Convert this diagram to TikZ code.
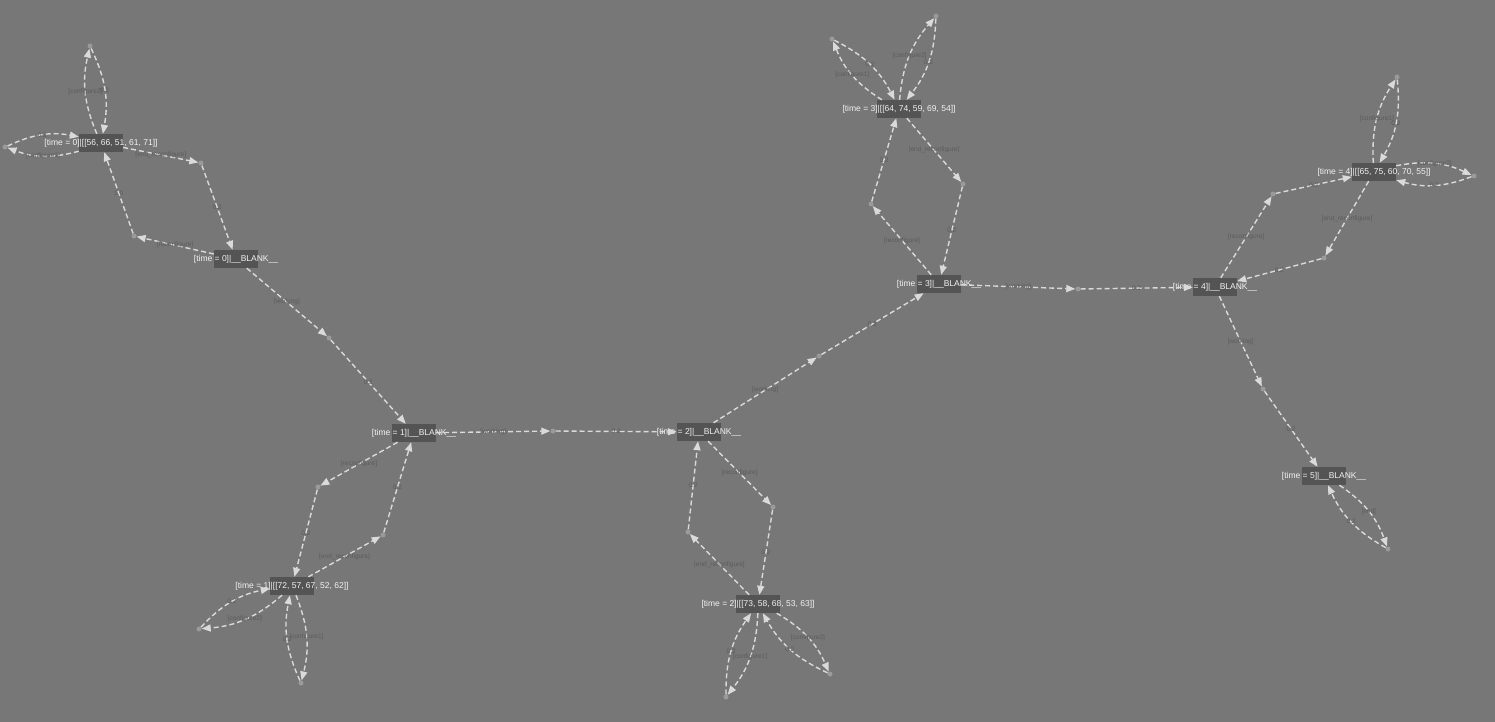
\documentclass[tikz,border=0pt]{standalone}
\usepackage{fontspec}
\setmainfont{Liberation Sans}
\usepackage{xcolor}
\usetikzlibrary{arrows.meta}

\definecolor{bggrey}{HTML}{777777}
\definecolor{boxgrey}{HTML}{545454}
\definecolor{edgegrey}{HTML}{DADADA}
\definecolor{dotgrey}{HTML}{9A9A9A}
\definecolor{labelgrey}{HTML}{5C5C5C}
\definecolor{textwhite}{HTML}{F2F2F2}

\begin{document}
\begin{tikzpicture}[
    x=1pt, y=-1pt,
    state/.style={rectangle, fill=boxgrey, minimum width=44pt, minimum height=18pt, inner sep=0pt},
    statetext/.style={text=textwhite, font=\fontsize{8.5}{10}\selectfont, inner sep=0pt},
    act/.style={circle, fill=dotgrey, minimum size=5pt, inner sep=0pt},
    link/.style={draw=edgegrey, line width=1.4pt, dash pattern=on 5pt off 3pt,
        -{Triangle[length=9pt, width=7pt]}},
    lens/.style={link, bend left=18},
    lab/.style={text=labelgrey, font=\fontsize{6.5}{7}\selectfont, inner sep=1pt}
]
    \useasboundingbox (0,0) rectangle (1495,722);
    \fill[bggrey] (0,0) rectangle (1495,722);

    % states
    \node[state] (s0) at (101,143) {};
    \node[state] (b0) at (236,259) {};
    \node[state] (b1) at (414,433) {};
    \node[state] (s1) at (292,586) {};
    \node[state] (b2) at (699,432) {};
    \node[state] (s2) at (758,604) {};
    \node[state] (b3) at (939,284) {};
    \node[state] (s3) at (899,109) {};
    \node[state] (b4) at (1215,287) {};
    \node[state] (s4) at (1374,172) {};
    \node[state] (b5) at (1324,476) {};

    \node[statetext] (s0t) at (s0) {[time = 0]|[[56, 66, 51, 61, 71]]};
    \node[statetext] (b0t) at (b0) {[time = 0]|\_\_BLANK\_\_};
    \node[statetext] (b1t) at (b1) {[time = 1]|\_\_BLANK\_\_};
    \node[statetext] (s1t) at (s1) {[time = 1]|[[72, 57, 67, 52, 62]]};
    \node[statetext] (b2t) at (b2) {[time = 2]|\_\_BLANK\_\_};
    \node[statetext] (s2t) at (s2) {[time = 2]|[[73, 58, 68, 53, 63]]};
    \node[statetext] (b3t) at (b3) {[time = 3]|\_\_BLANK\_\_};
    \node[statetext] (s3t) at (s3) {[time = 3]|[[64, 74, 59, 69, 54]]};
    \node[statetext] (b4t) at (b4) {[time = 4]|\_\_BLANK\_\_};
    \node[statetext] (s4t) at (s4) {[time = 4]|[[65, 75, 60, 70, 55]]};
    \node[statetext] (b5t) at (b5) {[time = 5]|\_\_BLANK\_\_};

    % actions
    \node[act] (a0c2) at (90,46) {};
    \node[act] (a0c1) at (5,147) {};
    \node[act] (a0er) at (201,163) {};
    \node[act] (a0r) at (134,236) {};
    \node[act] (a0w) at (329,338) {};
    \node[act] (a1r) at (318,487) {};
    \node[act] (a1er) at (383,535) {};
    \node[act] (a1c2) at (199,629) {};
    \node[act] (a1c1) at (301,683) {};
    \node[act] (a1w) at (553,431) {};
    \node[act] (a2r) at (773,507) {};
    \node[act] (a2er) at (688,532) {};
    \node[act] (a2c1) at (726,697) {};
    \node[act] (a2c2) at (830,674) {};
    \node[act] (a2w) at (819,356) {};
    \node[act] (a3r) at (871,204) {};
    \node[act] (a3er) at (963,184) {};
    \node[act] (a3c1) at (832,39) {};
    \node[act] (a3c2) at (936,16) {};
    \node[act] (a3w) at (1078,289) {};
    \node[act] (a4r) at (1273,194) {};
    \node[act] (a4er) at (1324,258) {};
    \node[act] (a4c1) at (1397,77) {};
    \node[act] (a4c2) at (1474,176) {};
    \node[act] (a4w) at (1263,389) {};
    \node[act] (a5e) at (1388,549) {};

    % time 0
    \draw[lens] (s0) to node[lab] {[configure2]} (a0c2);
    \draw[lens] (a0c2) to node[lab] {0.2} (s0);
    \draw[lens] (s0) to node[lab] {[configure1]} (a0c1);
    \draw[lens] (a0c1) to node[lab] {0.2} (s0);
    \draw[link] (s0) -- node[lab] {[end\_reconfigure]} (a0er);
    \draw[link] (a0er) -- node[lab] {0.2} (b0);
    \draw[link] (b0) -- node[lab] {[reconfigure]} (a0r);
    \draw[link] (a0r) -- node[lab] {1.0} (s0);
    \draw[link] (b0) -- node[lab] {[working]} (a0w);
    \draw[link] (a0w) -- node[lab] {0.2} (b1);

    % time 1
    \draw[link] (b1) -- node[lab] {[reconfigure]} (a1r);
    \draw[link] (a1r) -- node[lab] {0.2} (s1);
    \draw[link] (s1) -- node[lab] {[end\_reconfigure]} (a1er);
    \draw[link] (a1er) -- node[lab] {0.2} (b1);
    \draw[lens] (s1) to node[lab] {[configure2]} (a1c2);
    \draw[lens] (a1c2) to node[lab] {0.2} (s1);
    \draw[lens] (s1) to node[lab] {[configure1]} (a1c1);
    \draw[lens] (a1c1) to node[lab] {0.2} (s1);
    \draw[link] (b1) -- node[lab] {[working]} (a1w);
    \draw[link] (a1w) -- node[lab] {0.2} (b2);

    % time 2
    \draw[link] (b2) -- node[lab] {[reconfigure]} (a2r);
    \draw[link] (a2r) -- node[lab] {0.2} (s2);
    \draw[link] (s2) -- node[lab] {[end\_reconfigure]} (a2er);
    \draw[link] (a2er) -- node[lab] {0.2} (b2);
    \draw[lens] (s2) to node[lab] {[configure1]} (a2c1);
    \draw[lens] (a2c1) to node[lab] {0.2} (s2);
    \draw[lens] (s2) to node[lab] {[configure2]} (a2c2);
    \draw[lens] (a2c2) to node[lab] {0.2} (s2);
    \draw[link] (b2) -- node[lab] {[working]} (a2w);
    \draw[link] (a2w) -- node[lab] {0.2} (b3);

    % time 3
    \draw[link] (b3) -- node[lab] {[reconfigure]} (a3r);
    \draw[link] (a3r) -- node[lab] {0.2} (s3);
    \draw[link] (s3) -- node[lab] {[end\_reconfigure]} (a3er);
    \draw[link] (a3er) -- node[lab] {0.2} (b3);
    \draw[lens] (s3) to node[lab] {[configure1]} (a3c1);
    \draw[lens] (a3c1) to node[lab] {0.2} (s3);
    \draw[lens] (s3) to node[lab] {[configure2]} (a3c2);
    \draw[lens] (a3c2) to node[lab] {0.2} (s3);
    \draw[link] (b3) -- node[lab] {[working]} (a3w);
    \draw[link] (a3w) -- node[lab] {0.2} (b4);

    % time 4
    \draw[link] (b4) -- node[lab] {[reconfigure]} (a4r);
    \draw[link] (a4r) -- node[lab] {0.2} (s4);
    \draw[link] (s4) -- node[lab] {[end\_reconfigure]} (a4er);
    \draw[link] (a4er) -- node[lab] {0.2} (b4);
    \draw[lens] (s4) to node[lab] {[configure1]} (a4c1);
    \draw[lens] (a4c1) to node[lab] {0.2} (s4);
    \draw[lens] (s4) to node[lab] {[configure2]} (a4c2);
    \draw[lens] (a4c2) to node[lab] {0.2} (s4);
    \draw[link] (b4) -- node[lab] {[working]} (a4w);
    \draw[link] (a4w) -- node[lab] {0.2} (b5);

    % time 5
    \draw[lens] (b5) to node[lab] {[end]} (a5e);
    \draw[lens] (a5e) to node[lab] {0.2} (b5);
\end{tikzpicture}
\end{document}
